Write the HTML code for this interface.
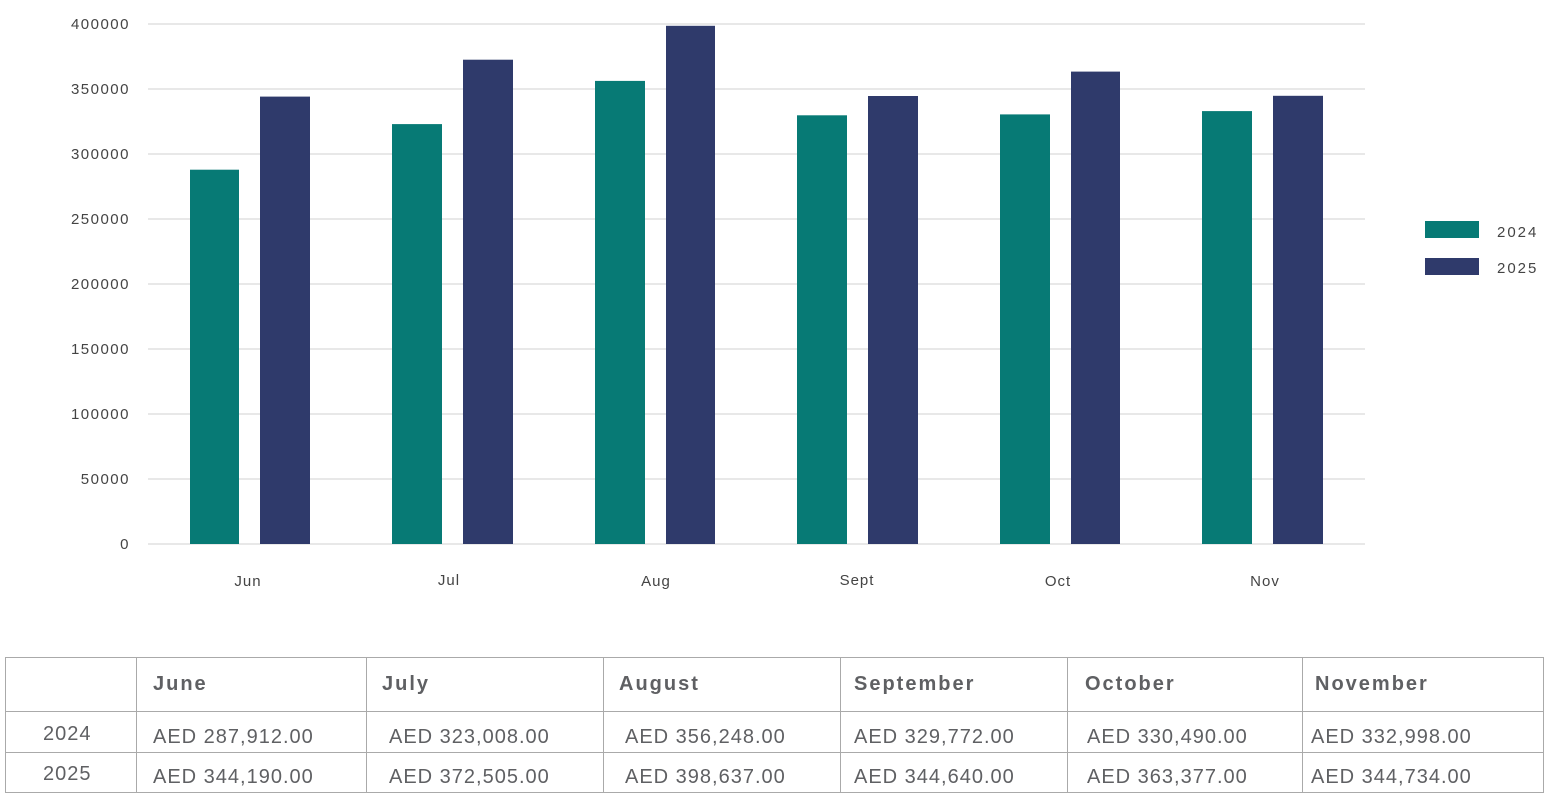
<!DOCTYPE html>
<html><head><meta charset="utf-8"><style>
html,body{margin:0;padding:0;background:#fff;width:1552px;height:803px;overflow:hidden}
svg{display:block}
</style></head><body>
<svg width="1552" height="803" xmlns="http://www.w3.org/2000/svg" font-family="Liberation Sans, sans-serif">
<g stroke="#e8e8e8" stroke-width="2">
<line x1="148" y1="24" x2="1365" y2="24"/><line x1="148" y1="89" x2="1365" y2="89"/>
<line x1="148" y1="154" x2="1365" y2="154"/><line x1="148" y1="219" x2="1365" y2="219"/>
<line x1="148" y1="284" x2="1365" y2="284"/><line x1="148" y1="349" x2="1365" y2="349"/>
<line x1="148" y1="414" x2="1365" y2="414"/><line x1="148" y1="479" x2="1365" y2="479"/>
<line x1="148" y1="544" x2="1365" y2="544"/>
</g>
<g fill="#444" font-size="15" text-anchor="end" letter-spacing="1.5">
<text x="130" y="29">400000</text><text x="130" y="94">350000</text><text x="130" y="159">300000</text>
<text x="130" y="224">250000</text><text x="130" y="289">200000</text><text x="130" y="354">150000</text>
<text x="130" y="419">100000</text><text x="130" y="484">50000</text><text x="130" y="549">0</text>
</g>
<g fill="#077a75">
<rect x="190" y="169.7" width="49" height="374.3"/>
<rect x="392" y="124.1" width="50" height="419.9"/>
<rect x="595" y="80.9" width="50" height="463.1"/>
<rect x="797" y="115.3" width="50" height="428.7"/>
<rect x="1000" y="114.4" width="50" height="429.6"/>
<rect x="1202" y="111.1" width="50" height="432.9"/>
<rect x="1425" y="221" width="54" height="17"/>
</g>
<g fill="#2f3a6b">
<rect x="260" y="96.6" width="50" height="447.4"/>
<rect x="463" y="59.7" width="50" height="484.3"/>
<rect x="666" y="25.8" width="49" height="518.2"/>
<rect x="868" y="96" width="50" height="448"/>
<rect x="1071" y="71.6" width="49" height="472.4"/>
<rect x="1273" y="95.8" width="50" height="448.2"/>
<rect x="1425" y="258" width="54" height="17"/>
</g>
<g fill="#444" font-size="15" text-anchor="middle" letter-spacing="1">
<text x="248" y="586">Jun</text><text x="449" y="585">Jul</text><text x="656" y="586">Aug</text>
<text x="857" y="585">Sept</text><text x="1058" y="586">Oct</text><text x="1265" y="586">Nov</text>
</g>
<g fill="#444" font-size="15" letter-spacing="2">
<text x="1497" y="237">2024</text><text x="1497" y="273">2025</text>
</g>
<g stroke="#aaa" stroke-width="1" fill="none">
<rect x="5.5" y="657.5" width="1538" height="135"/>
<line x1="5" y1="711.5" x2="1544" y2="711.5"/>
<line x1="5" y1="752.5" x2="1544" y2="752.5"/>
<line x1="136.5" y1="657" x2="136.5" y2="793"/><line x1="366.5" y1="657" x2="366.5" y2="793"/>
<line x1="603.5" y1="657" x2="603.5" y2="793"/><line x1="840.5" y1="657" x2="840.5" y2="793"/>
<line x1="1067.5" y1="657" x2="1067.5" y2="793"/><line x1="1302.5" y1="657" x2="1302.5" y2="793"/>
</g>
<g fill="#5f6063" font-size="20" font-weight="bold" letter-spacing="2">
<text x="153" y="690">June</text><text x="382" y="690">July</text><text x="619" y="690">August</text>
<text x="854" y="690">September</text><text x="1085" y="690">October</text><text x="1315" y="690">November</text>
</g>
<g fill="#5f6063" font-size="20" letter-spacing="1">
<text x="43" y="740">2024</text><text x="43" y="780">2025</text>
<text x="153" y="743">AED 287,912.00</text><text x="389" y="743">AED 323,008.00</text><text x="625" y="743">AED 356,248.00</text>
<text x="854" y="743">AED 329,772.00</text><text x="1087" y="743">AED 330,490.00</text><text x="1311" y="743">AED 332,998.00</text>
<text x="153" y="783">AED 344,190.00</text><text x="389" y="783">AED 372,505.00</text><text x="625" y="783">AED 398,637.00</text>
<text x="854" y="783">AED 344,640.00</text><text x="1087" y="783">AED 363,377.00</text><text x="1311" y="783">AED 344,734.00</text>
</g>
</svg>
</body></html>
